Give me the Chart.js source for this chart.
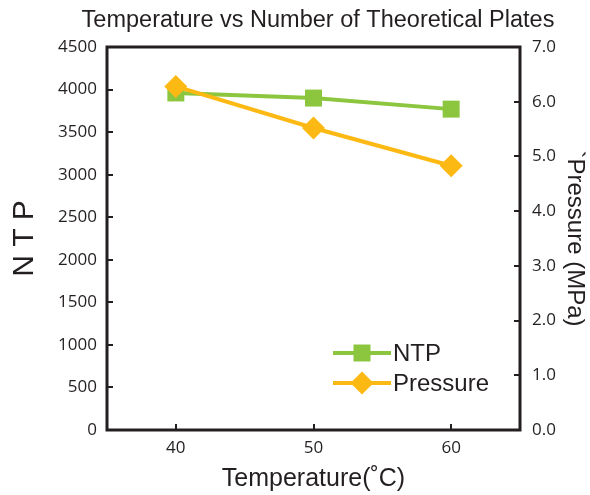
<!DOCTYPE html>
<html><head><meta charset="utf-8">
<script src="https://cdn.jsdelivr.net/npm/chart.js@4/dist/chart.umd.min.js"></script>
<style>html,body{margin:0;padding:0;background:#fff}#wrap{width:590px;height:495px}</style>
</head><body><div id="wrap"><canvas id="c" width="590" height="495"></canvas></div>
<script>
const chartTitle = 'Temperature vs Number of Theoretical Plates';
const temperatures = [40, 50, 60];
const ntpValues = [3960, 3900, 3770];
const pressureValues = [6.28, 5.52, 4.83];
const xTicks = [40, 50, 60];
const ntpTicks = [0, 500, 1000, 1500, 2000, 2500, 3000, 3500, 4000, 4500];
const pressureTicks = [0, 1, 2, 3, 4, 5, 6, 7];

const GREEN = '#8cc63f', ORANGE = '#fdb913', INK = '#231f20';
const tickFont = {family: 'Open Sans', size: 17};

const boxPlugin = {
  id: 'box',
  afterDraw(chart) {
    const ctx = chart.ctx, a = chart.chartArea;
    ctx.save();
    // title
    ctx.fillStyle = INK; ctx.font = '23.5px "Liberation Sans"'; ctx.textAlign = 'center'; ctx.textBaseline = 'middle';
    ctx.fillText(chartTitle, 318, 21);
    ctx.strokeStyle = INK; ctx.lineWidth = 3;
    ctx.strokeRect(a.left, a.top, a.right - a.left, a.bottom - a.top);
    ctx.lineWidth = 2;
    const L = 6;
    chart.scales.y.ticks.forEach(t => { const p = Math.round(chart.scales.y.getPixelForValue(t.value));
      if (p > a.top + 2 && p < a.bottom - 2) { ctx.beginPath(); ctx.moveTo(a.left, p); ctx.lineTo(a.left + L, p); ctx.stroke(); } });
    chart.scales.y1.ticks.forEach(t => { const p = Math.round(chart.scales.y1.getPixelForValue(t.value));
      if (p > a.top + 2 && p < a.bottom - 2) { ctx.beginPath(); ctx.moveTo(a.right, p); ctx.lineTo(a.right - L, p); ctx.stroke(); } });
    chart.scales.x.ticks.forEach(t => { const p = Math.round(chart.scales.x.getPixelForValue(t.value));
      ctx.beginPath(); ctx.moveTo(p, a.bottom); ctx.lineTo(p, a.bottom - L); ctx.stroke(); });
    // legend
    const items = [{ds: chart.data.datasets[0], y: 353}, {ds: chart.data.datasets[1], y: 383}];
    items.forEach(it => {
      const ds = it.ds;
      ctx.strokeStyle = ds.borderColor; ctx.lineWidth = ds.borderWidth;
      ctx.beginPath(); ctx.moveTo(333, it.y); ctx.lineTo(391, it.y); ctx.stroke();
      ctx.fillStyle = ds.pointBackgroundColor;
      Chart.helpers.drawPoint(ctx, {pointStyle: ds.pointStyle, radius: ds.pointRadius, borderWidth: 0}, 362, it.y);
      ctx.fillStyle = INK; ctx.font = '24px "Liberation Sans"'; ctx.textBaseline = 'middle'; ctx.textAlign = 'left';
      ctx.fillText(ds.label, 393, it.y + 1);
    });
    ctx.restore();
  }
};

new Chart(document.getElementById('c'), {
  type: 'line',
  data: {
    datasets: [
      {label: 'NTP', data: temperatures.map((t, i) => ({x: t, y: ntpValues[i]})), yAxisID: 'y',
       borderColor: GREEN, backgroundColor: GREEN, pointBackgroundColor: GREEN, pointBorderWidth: 0,
       borderWidth: 4, pointStyle: 'rect', pointRadius: 12, order: 2},
      {label: 'Pressure', data: temperatures.map((t, i) => ({x: t, y: pressureValues[i]})), yAxisID: 'y1',
       borderColor: ORANGE, backgroundColor: ORANGE, pointBackgroundColor: ORANGE, pointBorderWidth: 0,
       borderWidth: 4, pointStyle: 'rectRot', pointRadius: 11.5, order: 1}
    ]
  },
  options: {
    responsive: false, animation: false,
    layout: {padding: {top: 47, left: 0, right: 0, bottom: 0}},
    plugins: {
      legend: {display: false}, tooltip: {enabled: false}, title: {display: false}
    },
    scales: {
      x: {type: 'linear', min: 35, max: 65,
        afterBuildTicks: s => { s.ticks = xTicks.map(v => ({value: v})); },
        afterFit: s => { s.height = 65; },
        grid: {display: false, drawTicks: false}, border: {display: false},
        ticks: {color: INK, font: tickFont, padding: 8},
        title: {display: true, text: 'Temperature(˚C)', color: INK, font: {family: 'Liberation Sans', size: 25}, padding: {top: 0, bottom: 1}}},
      y: {type: 'linear', position: 'left', min: 0, max: 4500,
        afterBuildTicks: s => { s.ticks = ntpTicks.map(v => ({value: v})); },
        afterFit: s => { s.width = 107; },
        grid: {display: false, drawTicks: false}, border: {display: false},
        ticks: {color: INK, font: tickFont, padding: 10, callback: v => String(v)},
        title: {display: true, text: 'N T P', color: INK, font: {family: 'Liberation Sans', size: 30}, padding: {top: 7, bottom: 0}}},
      y1: {type: 'linear', position: 'right', min: 0, max: 7,
        afterBuildTicks: s => { s.ticks = pressureTicks.map(v => ({value: v})); },
        afterFit: s => { s.width = 70; },
        grid: {display: false, drawTicks: false}, border: {display: false},
        ticks: {color: INK, font: tickFont, padding: 12, callback: v => Number(v).toFixed(1)},
        title: {display: true, text: '`Pressure (MPa)', color: INK, font: {family: 'Liberation Sans', size: 24}, padding: {top: 1, bottom: 0}}}
    }
  },
  plugins: [boxPlugin]
});
</script></body></html>
